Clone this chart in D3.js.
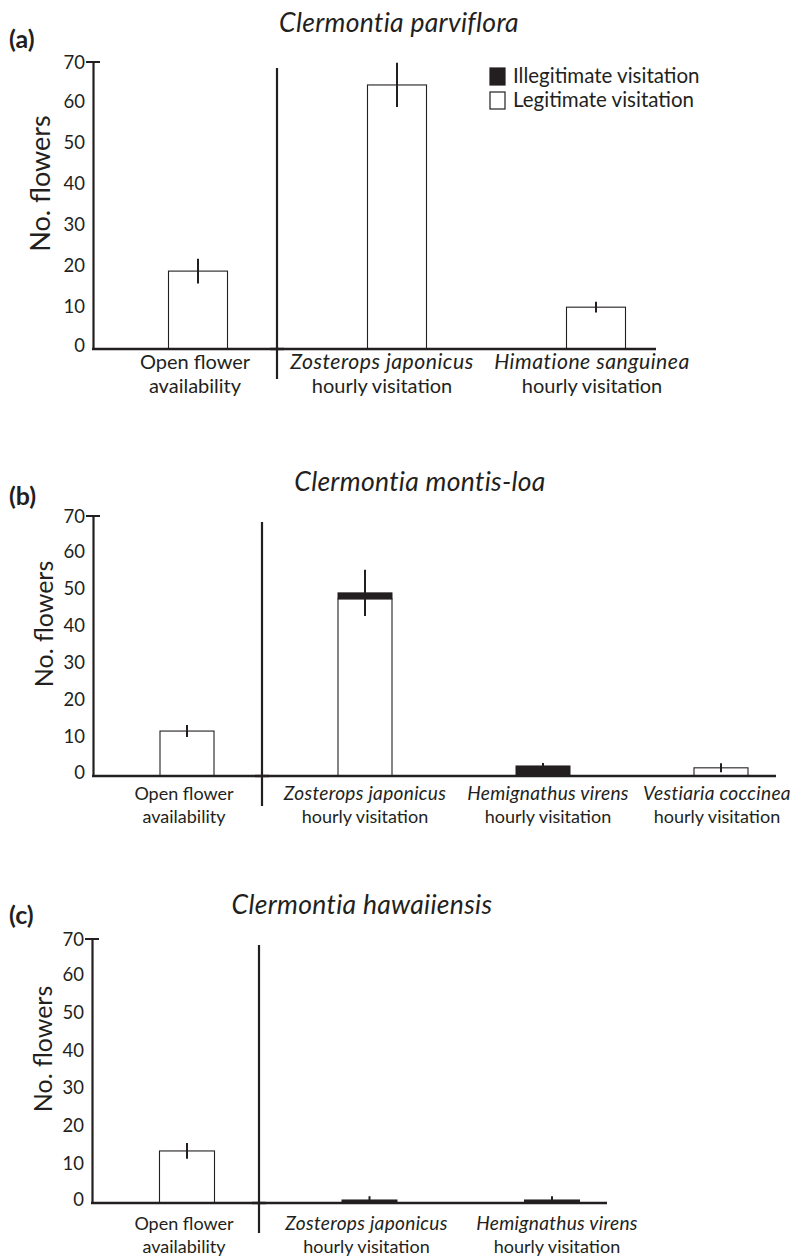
<!DOCTYPE html>
<html>
<head>
<meta charset="utf-8">
<script src="https://cdn.jsdelivr.net/npm/d3@7"></script>
<style>
  body { margin: 0; background: #fff; }
  text { font-family: Lato, "Open Sans", sans-serif; fill: #231f20; }
</style>
</head>
<body>
<div id="chart"></div>
<script>
// ---- data ----
const panelLetters = ["(a)", "(b)", "(c)"];
const panelTitles = ["Clermontia parviflora", "Clermontia montis-loa", "Clermontia hawaiiensis"];
const yTicks = [0, 10, 20, 30, 40, 50, 60, 70];
const legendLabels = ["Illegitimate visitation", "Legitimate visitation"];

const categoriesA = [["Open flower", "availability"], ["Zosterops japonicus", "hourly visitation"], ["Himatione sanguinea", "hourly visitation"]];
const legitA = [19.0, 64.4, 10.2];
const illegitA = [0, 0, 0];
const errA = [3.0, 5.4, 1.3];

const categoriesB = [["Open flower", "availability"], ["Zosterops japonicus", "hourly visitation"], ["Hemignathus virens", "hourly visitation"], ["Vestiaria coccinea", "hourly visitation"]];
const legitB = [12.1, 47.7, 0, 2.2];
const illegitB = [0, 1.6, 2.7, 0];
const errB = [1.6, 6.2, 0.8, 1.2];

const categoriesC = [["Open flower", "availability"], ["Zosterops japonicus", "hourly visitation"], ["Hemignathus virens", "hourly visitation"]];
const legitC = [13.8, 0, 0];
const illegitC = [0, 0.8, 0.8];
const errC = [2.1, 1.0, 1.0];

const W = 796, H = 1257;
const svg = d3.select("#chart").append("svg")
    .attr("width", W)
    .attr("height", H);

function drawPanel(cfg) {
  let g = svg.append("g");

  let y = d3.scaleLinear().domain([0, 70]).range([cfg.bottom, cfg.top]);
  let x = d3.scalePoint().domain(d3.range(cfg.cats.length)).range([cfg.xFirst, cfg.xLast]);

  // letter + title
  g.append("text")
      .attr("x", 9).attr("y", cfg.letterY)
      .style("font-size", "25px").style("font-weight", "bold")
      .text(cfg.letter);
  g.append("text")
      .attr("x", cfg.titleX).attr("y", cfg.titleY)
      .attr("text-anchor", "middle")
      .style("font-size", "26.5px").style("font-style", "italic")
      .style("letter-spacing", "0.3px")
      .text(cfg.title);

  // y axis
  let yAxis = d3.axisLeft(y).tickValues(yTicks).tickSizeInner(0).tickSizeOuter(0).tickPadding(8);
  let ax = g.append("g")
      .attr("transform", `translate(${cfg.axisX},0)`)
      .call(yAxis);
  ax.select(".domain").attr("stroke", "#231f20").attr("stroke-width", 2.2);
  ax.selectAll(".tick text")
      .attr("dy", d => (d === 0 ? -4 : d === 70 ? 0 : -2) + 6)
      .style("font-size", "18.5px")
      .style("font-family", "Lato, 'Open Sans', sans-serif")
      .attr("fill", "#231f20");
  // top tick at 70
  g.append("line")
      .attr("x1", cfg.axisX - 7).attr("x2", cfg.axisX + 7)
      .attr("y1", y(70)).attr("y2", y(70))
      .attr("stroke", "#231f20").attr("stroke-width", 2);

  // y label
  g.append("text")
      .attr("transform", `translate(${cfg.yLabelX},${(cfg.top + cfg.bottom) / 2 - 22}) rotate(-90)`)
      .attr("text-anchor", "middle")
      .style("font-size", cfg.yLabelFs + "px")
      .text("No. flowers");

  // bars: legitimate (white) then illegitimate (black) stacked on top
  let rows = cfg.cats.map((c, i) => ({i, legit: cfg.legit[i], illegit: cfg.illegit[i], err: cfg.err[i]}));

  g.selectAll(".legit")
    .data(rows.filter(d => d.legit > 0))
    .enter().append("rect")
      .attr("x", d => x(d.i) - cfg.barW / 2)
      .attr("y", d => y(d.legit))
      .attr("width", cfg.barW)
      .attr("height", d => y(0) - y(d.legit))
      .attr("fill", "#fff")
      .attr("stroke", "#231f20")
      .attr("stroke-width", 1.1);

  g.selectAll(".illegit")
    .data(rows.filter(d => d.illegit > 0))
    .enter().append("rect")
      .attr("x", d => x(d.i) - cfg.barW / 2)
      .attr("y", d => y(d.legit + d.illegit))
      .attr("width", cfg.barW)
      .attr("height", d => y(d.legit) - y(d.legit + d.illegit))
      .attr("fill", "#231f20")
      .attr("stroke", "#231f20")
      .attr("stroke-width", 1);

  // error bars
  g.selectAll(".err")
    .data(rows)
    .enter().append("line")
      .attr("x1", d => x(d.i)).attr("x2", d => x(d.i))
      .attr("y1", d => y(d.legit + d.illegit + d.err))
      .attr("y2", d => y(d.legit + d.illegit - d.err))
      .attr("stroke", "#231f20")
      .attr("stroke-width", 2);

  // baseline
  g.append("line")
      .attr("x1", cfg.axisX - 1).attr("x2", cfg.baseEnd)
      .attr("y1", y(0)).attr("y2", y(0))
      .attr("stroke", "#231f20").attr("stroke-width", 2.4);

  // divider between availability and visitation
  g.append("line")
      .attr("x1", cfg.divX).attr("x2", cfg.divX)
      .attr("y1", y(70) + 6).attr("y2", y(0) + 30)
      .attr("stroke", "#231f20").attr("stroke-width", 2.2);
  g.append("line")
      .attr("x1", cfg.divX - 7).attr("x2", cfg.divX + 7)
      .attr("y1", y(0)).attr("y2", y(0))
      .attr("stroke", "#231f20").attr("stroke-width", 2.4);

  // category labels (species names italic)
  let lab = g.selectAll(".cat")
    .data(rows)
    .enter().append("text")
      .attr("text-anchor", "middle")
      .style("font-size", cfg.catFs + "px");
  lab.append("tspan")
      .attr("x", d => x(d.i) + cfg.labelShift[d.i])
      .attr("y", y(0) + cfg.catDy)
      .style("font-style", d => d.i === 0 ? "normal" : "italic")
      .style("font-size", d => (d.i === 0 ? cfg.catFs : cfg.catFs * 1.06) + "px")
      .style("letter-spacing", d => d.i === 0 ? "0px" : cfg.italSpacing + "px")
      .text(d => cfg.cats[d.i][0]);
  lab.append("tspan")
      .attr("x", d => x(d.i) + cfg.labelShift[d.i])
      .attr("y", y(0) + cfg.catDy + cfg.catGap)
      .text(d => cfg.cats[d.i][1]);

  return g;
}

drawPanel({letter: panelLetters[0], title: panelTitles[0], cats: categoriesA, legit: legitA, illegit: illegitA, err: errA,
  top: 62, bottom: 349, axisX: 93, xFirst: 198, xLast: 596, barW: 59, divX: 277, baseEnd: 656,
  labelShift: [-3, -15, -4], titleX: 399, titleY: 32, letterY: 48, yLabelFs: 27, yLabelX: 50,
  catFs: 20, catDy: 20, catGap: 24, italSpacing: 0.5});

drawPanel({letter: panelLetters[1], title: panelTitles[1], cats: categoriesB, legit: legitB, illegit: illegitB, err: errB,
  top: 516, bottom: 776, axisX: 93, xFirst: 187, xLast: 721, barW: 54, divX: 262, baseEnd: 776,
  labelShift: [-3, 0, 5, -4], titleX: 420, titleY: 491, letterY: 505, yLabelFs: 25, yLabelX: 53,
  catFs: 18, catDy: 24, catGap: 23, italSpacing: 0.3});

drawPanel({letter: panelLetters[2], title: panelTitles[2], cats: categoriesC, legit: legitC, illegit: illegitC, err: errC,
  top: 939, bottom: 1203, axisX: 92, xFirst: 187, xLast: 552, barW: 55, divX: 259, baseEnd: 607,
  labelShift: [-3, -3, 5], titleX: 362, titleY: 914, letterY: 924, yLabelFs: 25, yLabelX: 52,
  catFs: 18, catDy: 27, catGap: 23, italSpacing: 0.3});

// legend (panel a)
const legend = svg.append("g").attr("transform", "translate(490,68)");
legend.selectAll("rect")
  .data(legendLabels)
  .enter().append("rect")
    .attr("x", 0)
    .attr("y", (d, i) => i * 24)
    .attr("width", 15).attr("height", 17)
    .attr("fill", (d, i) => i === 0 ? "#231f20" : "#fff")
    .attr("stroke", "#231f20").attr("stroke-width", 1.2);
legend.selectAll("text")
  .data(legendLabels)
  .enter().append("text")
    .attr("x", 23)
    .attr("y", (d, i) => i * 24 + 15)
    .style("font-size", "20.5px")
    .text(d => d);
</script>
</body>
</html>
